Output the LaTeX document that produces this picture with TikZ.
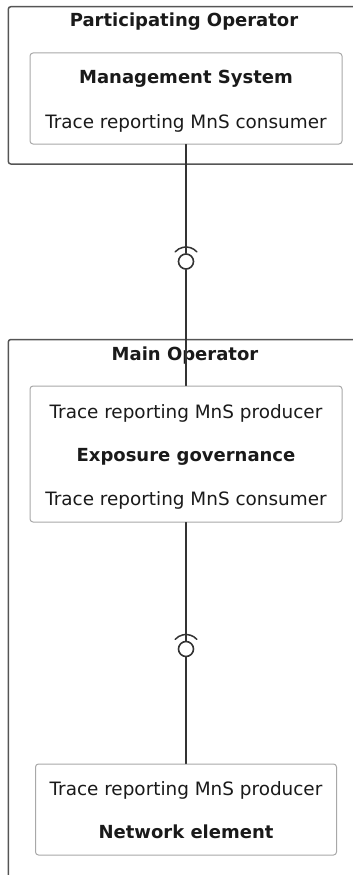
\documentclass[tikz,border=0pt]{standalone}
\usepackage{fontspec}
\setmainfont{DejaVu Sans}
\usetikzlibrary{arrows.meta}
\usepackage{xcolor}
\definecolor{framegray}{HTML}{555555}
\definecolor{boxgray}{HTML}{A8A8A8}
\definecolor{wiregray}{HTML}{333333}
\definecolor{inkgray}{HTML}{1A1A1A}

\tikzset{
  opframe/.style={draw=framegray, line width=1.5pt, rounded corners=2.5pt},
  compbox/.style={draw=boxgray, line width=1pt, rounded corners=3pt, fill=white, inner sep=0pt},
  boxtext/.style={anchor=base, text=inkgray, inner sep=0pt, font=\fontsize{18.4}{22}\selectfont},
  boxtitle/.style={boxtext, font=\fontsize{18}{22}\selectfont\bfseries},
  lolly/.style={circle, draw=wiregray, line width=1.6pt, minimum size=15pt, inner sep=0pt},
  wire/.style={draw=wiregray, line width=1.3pt},
  socket/.style={draw=wiregray, line width=1.5pt},
}

\begin{document}
\begin{tikzpicture}[x=1pt, y=-1pt, line join=round, line cap=round]
  \useasboundingbox (0,0) rectangle (353,875);
  \clip (0,0) rectangle (353,875);

  % ========================================================
  % 0. OPERATOR FRAMES (run off the right and bottom edges)
  % ========================================================
  \draw[opframe] (8.3,6.7) rectangle (380,164);
  \node[boxtitle] (partTitle) at (184,27) {Participating Operator};

  \draw[opframe] (8.3,339.5) rectangle (380,900);
  \node[boxtitle] (mainTitle) at (185,360.7) {Main Operator};

  % ========================================================
  % 1. COMPONENT BOXES
  % ========================================================
  % Management System (participating side)
  \node[compbox, minimum width=312pt, minimum height=91pt] (mgmt) at (186,98.5) {};
  \node[boxtitle] (mgmtName) at (186,84) {Management System};
  \node[boxtext] (mgmtCons) at (186,128.3) {Trace reporting MnS consumer};

  % Exposure governance (main side)
  \node[compbox, minimum width=312pt, minimum height=136pt] (expo) at (186,454) {};
  \node[boxtext] (expoProd) at (186,418) {Trace reporting MnS producer};
  \node[boxtitle] (expoName) at (186,461.5) {Exposure governance};
  \node[boxtext] (expoCons) at (186,505) {Trace reporting MnS consumer};

  % Network element (main side)
  \node[compbox, minimum width=301pt, minimum height=91pt] (netel) at (186,809.5) {};
  \node[boxtext] (netProd) at (186,795) {Trace reporting MnS producer};
  \node[boxtitle] (netName) at (186,838) {Network element};

  % ========================================================
  % 2. PROVIDED / REQUIRED INTERFACES (ball and socket)
  % ========================================================
  \node[lolly] (ifUpper) at (186,261.5) {};
  \draw[socket] (ifUpper.center) ++(-42:14.5) arc[start angle=-42, end angle=-138, radius=14.5];

  \node[lolly] (ifLower) at (186,649) {};
  \draw[socket] (ifLower.center) ++(-42:14.5) arc[start angle=-42, end angle=-138, radius=14.5];

  % ========================================================
  % 3. CONNECTORS
  % ========================================================
  \draw[wire] (mgmt.south) -- (ifUpper.north);
  \draw[wire] (ifUpper.south) -- (expo.north);
  \draw[wire] (expo.south) -- (ifLower.north);
  \draw[wire] (ifLower.south) -- (netel.north);

\end{tikzpicture}
\end{document}
